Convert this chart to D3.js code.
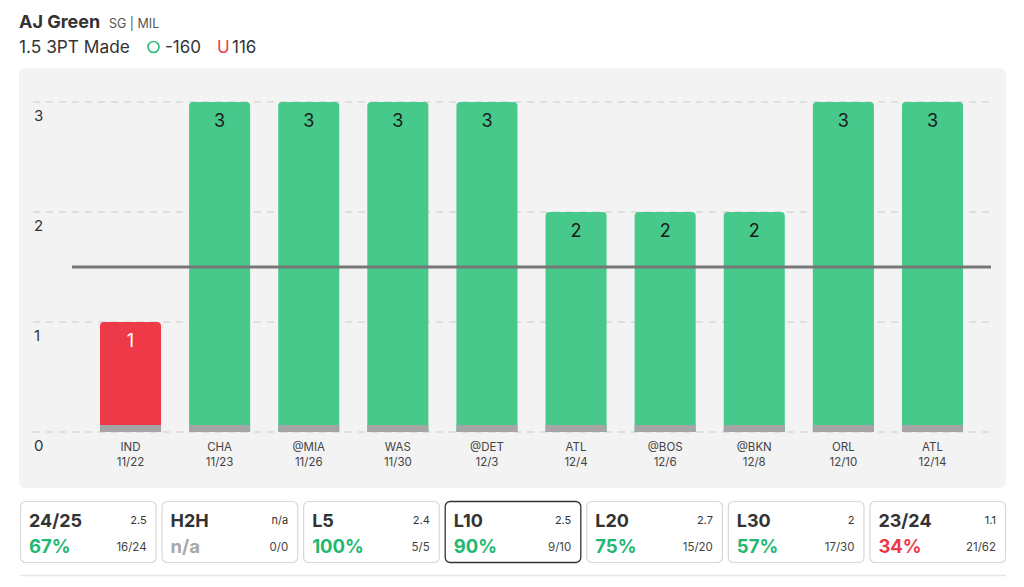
<!DOCTYPE html>
<html><head><meta charset="utf-8">
<script src="https://cdn.jsdelivr.net/npm/d3@7"></script>
<style>
html,body{margin:0;padding:0;background:#fff;}
svg{display:block;font-family:Inter,"Noto Sans",sans-serif;}
</style></head>
<body>
<svg id="c" width="1024" height="587"></svg>
<script>
const teams = ["IND","CHA","@MIA","WAS","@DET","ATL","@BOS","@BKN","ORL","ATL"];
const dates = ["11/22","11/23","11/26","11/30","12/3","12/4","12/6","12/8","12/10","12/14"];
const values = [1,3,3,3,3,2,2,2,3,3];
const propLine = 1.5;
const yTicks = [0,1,2,3];
const cardLabels = ["24/25","H2H","L5","L10","L20","L30","23/24"];
const cardAvg = ["2.5","n/a","2.4","2.5","2.7","2","1.1"];
const cardPct = ["67%","n/a","100%","90%","75%","57%","34%"];
const cardFrac = ["16/24","0/0","5/5","9/10","15/20","17/30","21/62"];
const cardStatus = ["over","na","over","over","over","over","under"];

const svg = d3.select("#c");
const GREEN = "#46c98b", RED = "#ee3a48";

// header
svg.append("text").attr("x",19).attr("y",28).attr("font-size",18).attr("font-weight",700).attr("fill","#333").text("AJ Green");
svg.append("text").attr("x",109).attr("y",28).attr("font-size",12.5).attr("fill","#555").text("SG | MIL");
svg.append("text").attr("x",19).attr("y",53).attr("font-size",17.3).attr("fill","#333").text("1.5 3PT Made");
svg.append("circle").attr("cx",153.5).attr("cy",47).attr("r",5.5).attr("fill","none").attr("stroke","#2dbd7a").attr("stroke-width",1.6);
svg.append("text").attr("x",165).attr("y",53).attr("font-size",17).attr("fill","#333").text("-160");
svg.append("text").attr("x",217).attr("y",53).attr("font-size",17).attr("fill","#ee3a48").text("U");
svg.append("text").attr("x",232).attr("y",53).attr("font-size",17).attr("fill","#333").text("116");

// panel
svg.append("rect").attr("x",19).attr("y",68).attr("width",987).attr("height",420).attr("rx",6).attr("fill","#f3f3f3");

const x = d3.scaleBand().domain(d3.range(values.length)).range([86,977]).paddingInner(0.315).paddingOuter(0.157);
const y = d3.scaleLinear().domain([0,3]).range([432,102]);

// grid
const g = svg.append("g");
g.selectAll("line.grid").data(yTicks).join("line")
  .attr("x1",33).attr("x2",992).attr("y1",d=>y(d)).attr("y2",d=>y(d))
  .attr("stroke","#d9d9d9").attr("stroke-width",1.3).attr("stroke-dasharray","7,6");
g.selectAll("text.yt").data(yTicks).join("text")
  .attr("x",34).attr("y",d=>y(d)+19).attr("font-size",15).attr("fill","#333").text(d=>d);

// bars
const bw = x.bandwidth();
const bars = svg.append("g");
values.forEach((v,i)=>{
  const x0 = x(i), y0 = y(v), r = 4;
  const p = `M${x0},${y(0)} V${y0+r} Q${x0},${y0} ${x0+r},${y0} H${x0+bw-r} Q${x0+bw},${y0} ${x0+bw},${y0+r} V${y(0)} Z`;
  bars.append("path").attr("d",p).attr("fill", v>propLine?GREEN:RED);
  bars.append("rect").attr("x",x0).attr("y",y(0)-7).attr("width",bw).attr("height",7).attr("fill","#a5a5a5");
  bars.append("text").attr("x",x0+bw/2).attr("y",y0+25).attr("text-anchor","middle").attr("font-size",18)
    .attr("fill", v>propLine?"#1a1a1a":"#fff").text(v);
  bars.append("text").attr("x",x0+bw/2).attr("y",451).attr("text-anchor","middle").attr("font-size",11.5).attr("fill","#444").text(teams[i]);
  bars.append("text").attr("x",x0+bw/2).attr("y",466).attr("text-anchor","middle").attr("font-size",11.5).attr("fill","#444").text(dates[i]);
});

// prop line
svg.append("line").attr("x1",72).attr("x2",991).attr("y1",y(propLine)).attr("y2",y(propLine))
  .attr("stroke","#777").attr("stroke-width",3);

// cards
const cx = d3.scaleBand().domain(d3.range(cardLabels.length)).range([20,1006]).paddingInner(0.035);
const cw = cx.bandwidth();
cardLabels.forEach((lab,i)=>{
  const x0 = cx(i);
  const sel = lab==="L10";
  svg.append("rect").attr("x",x0+0.5).attr("y",501.5).attr("width",cw-1).attr("height",61).attr("rx",5)
    .attr("fill","#fff").attr("stroke",sel?"#333":"#d8d8d8").attr("stroke-width",sel?1.3:1.2);
  svg.append("text").attr("x",x0+9).attr("y",527).attr("font-size",18).attr("font-weight",700).attr("fill","#333").text(lab);
  svg.append("text").attr("x",x0+cw-10).attr("y",524).attr("text-anchor","end").attr("font-size",11).attr("fill","#333").text(cardAvg[i]);
  const col = cardStatus[i]==="over"?"#22b872":(cardStatus[i]==="under"?"#ee3a48":"#a8a8a8");
  svg.append("text").attr("x",x0+9).attr("y",553).attr("font-size",18.5).attr("font-weight",700).attr("fill",col).text(cardPct[i]);
  svg.append("text").attr("x",x0+cw-10).attr("y",551).attr("text-anchor","end").attr("font-size",11.5).attr("fill","#444").text(cardFrac[i]);
});
svg.append("line").attr("x1",20).attr("x2",1006).attr("y1",575.5).attr("y2",575.5).attr("stroke","#e6e6e6").attr("stroke-width",1.5);
</script>
</body></html>
